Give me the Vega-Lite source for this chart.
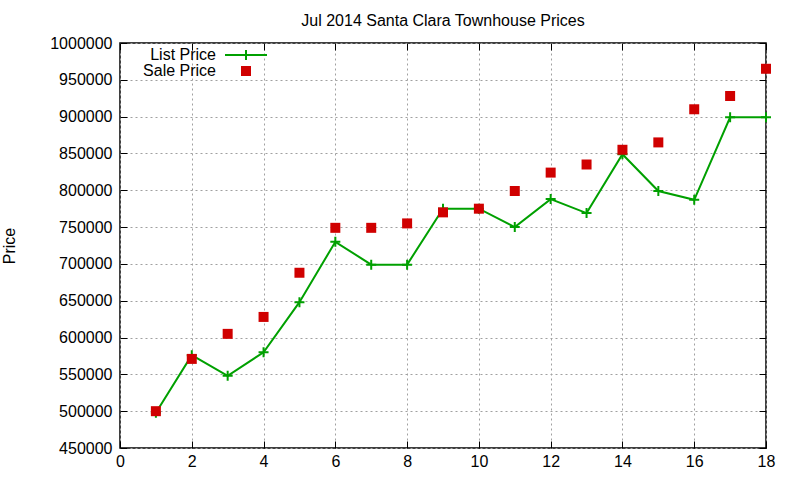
{
  "$schema": "https://vega.github.io/schema/vega-lite/v6.json",
  "autosize": "none",
  "width": 646,
  "height": 405,
  "padding": {"left": 120, "top": 43, "right": 34, "bottom": 32},
  "background": "white",
  "title": {
    "text": "Jul 2014 Santa Clara Townhouse Prices",
    "font": "Liberation Sans",
    "fontSize": 16,
    "fontWeight": "normal",
    "color": "black",
    "anchor": "middle",
    "offset": 6
  },
  "config": {
    "view": {"stroke": "black", "strokeWidth": 1.5},
    "axis": {
      "labelFont": "Liberation Sans",
      "labelFontSize": 16,
      "labelColor": "black",
      "titleFont": "Liberation Sans",
      "titleFontSize": 16,
      "titleFontWeight": "normal",
      "titleColor": "black",
      "domain": false,
      "tickColor": "black",
      "tickSize": -7,
      "grid": true,
      "gridColor": "#a0a0a0",
      "gridDash": [2, 3],
      "gridWidth": 1
    },
    "legend": {
      "labelFont": "Liberation Sans",
      "labelFontSize": 16,
      "labelColor": "black"
    }
  },
  "data": {
    "values": [
      {"x": 1, "price": 498000, "series": "List Price"},
      {"x": 2, "price": 576000, "series": "List Price"},
      {"x": 3, "price": 548000, "series": "List Price"},
      {"x": 4, "price": 580000, "series": "List Price"},
      {"x": 5, "price": 648000, "series": "List Price"},
      {"x": 6, "price": 730000, "series": "List Price"},
      {"x": 7, "price": 699000, "series": "List Price"},
      {"x": 8, "price": 699000, "series": "List Price"},
      {"x": 9, "price": 775000, "series": "List Price"},
      {"x": 10, "price": 775000, "series": "List Price"},
      {"x": 11, "price": 750000, "series": "List Price"},
      {"x": 12, "price": 788000, "series": "List Price"},
      {"x": 13, "price": 769000, "series": "List Price"},
      {"x": 14, "price": 849000, "series": "List Price"},
      {"x": 15, "price": 799000, "series": "List Price"},
      {"x": 16, "price": 787000, "series": "List Price"},
      {"x": 17, "price": 899000, "series": "List Price"},
      {"x": 18, "price": 899000, "series": "List Price"},
      {"x": 1, "price": 500000, "series": "Sale Price"},
      {"x": 2, "price": 571000, "series": "Sale Price"},
      {"x": 3, "price": 605000, "series": "Sale Price"},
      {"x": 4, "price": 628000, "series": "Sale Price"},
      {"x": 5, "price": 688000, "series": "Sale Price"},
      {"x": 6, "price": 749000, "series": "Sale Price"},
      {"x": 7, "price": 749000, "series": "Sale Price"},
      {"x": 8, "price": 755000, "series": "Sale Price"},
      {"x": 9, "price": 770000, "series": "Sale Price"},
      {"x": 10, "price": 775000, "series": "Sale Price"},
      {"x": 11, "price": 799000, "series": "Sale Price"},
      {"x": 12, "price": 824000, "series": "Sale Price"},
      {"x": 13, "price": 835000, "series": "Sale Price"},
      {"x": 14, "price": 855000, "series": "Sale Price"},
      {"x": 15, "price": 865000, "series": "Sale Price"},
      {"x": 16, "price": 910000, "series": "Sale Price"},
      {"x": 17, "price": 928000, "series": "Sale Price"},
      {"x": 18, "price": 965000, "series": "Sale Price"}
    ]
  },
  "resolve": {"axis": {"x": "independent", "y": "independent"}},
  "layer": [
    {
      "transform": [{"filter": "datum.series == 'List Price'"}],
      "mark": {"type": "line", "color": "#00a000", "strokeWidth": 2},
      "encoding": {
        "x": {
          "field": "x",
          "type": "quantitative",
          "scale": {"domain": [0, 18], "nice": false},
          "axis": {"values": [0, 2, 4, 6, 8, 10, 12, 14, 16, 18], "title": null, "labelPadding": 12, "labelFlush": false}
        },
        "y": {
          "field": "price",
          "type": "quantitative",
          "scale": {"domain": [450000, 1000000], "nice": false, "zero": false},
          "axis": {
            "values": [450000, 500000, 550000, 600000, 650000, 700000, 750000, 800000, 850000, 900000, 950000, 1000000],
            "format": "d",
            "title": "Price",
            "labelPadding": 15,
            "titlePadding": 32
          }
        }
      }
    },
    {
      "transform": [{"filter": "datum.series == 'List Price'"}],
      "mark": {
        "type": "point",
        "shape": "M-1,0H1M0,-1V1",
        "size": 100,
        "filled": false,
        "color": "#00a000",
        "strokeWidth": 2,
        "opacity": 1
      },
      "encoding": {
        "x": {
          "field": "x",
          "type": "quantitative",
          "axis": {"orient": "top", "values": [0, 2, 4, 6, 8, 10, 12, 14, 16, 18], "labels": false, "grid": false, "title": null}
        },
        "y": {
          "field": "price",
          "type": "quantitative",
          "axis": {
            "orient": "right",
            "values": [450000, 500000, 550000, 600000, 650000, 700000, 750000, 800000, 850000, 900000, 950000, 1000000],
            "labels": false,
            "grid": false,
            "title": null
          }
        }
      }
    },
    {
      "transform": [{"filter": "datum.series == 'Sale Price'"}],
      "mark": {"type": "point", "filled": true, "opacity": 1, "size": 100},
      "encoding": {
        "x": {"field": "x", "type": "quantitative", "axis": null},
        "y": {"field": "price", "type": "quantitative", "axis": null},
        "color": {
          "field": "series",
          "type": "nominal",
          "scale": {"domain": ["List Price", "Sale Price"], "range": ["#00a000", "#d00000"]},
          "legend": {
            "title": null,
            "orient": "none",
            "legendX": 118,
            "legendY": 4,
            "labelAlign": "right",
            "labelOffset": -38,
            "rowPadding": 0
          }
        },
        "shape": {
          "field": "series",
          "type": "nominal",
          "scale": {
            "domain": ["List Price", "Sale Price"],
            "range": ["M-4.2,-0.2H-0.2V-1H0.2V-0.2H4.2V0.2H0.2V1H-0.2V0.2H-4.2Z", "square"]
          },
          "legend": null
        }
      }
    }
  ]
}
